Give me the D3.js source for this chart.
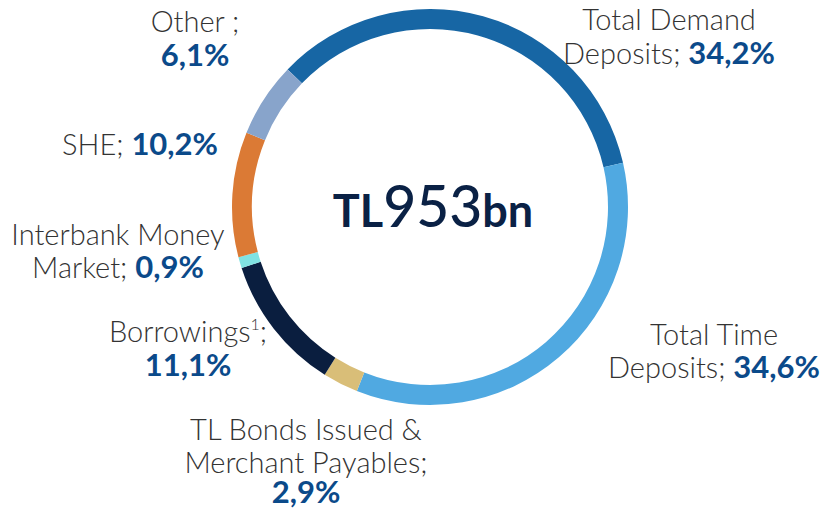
<!DOCTYPE html>
<html><head><meta charset="utf-8">
<script src="https://cdn.jsdelivr.net/npm/d3@7/dist/d3.min.js"></script>
<style>
html,body{margin:0;padding:0;background:#fff;}
svg{display:block;}
.lbl{font-family:Lato,"Open Sans",sans-serif;font-weight:300;fill:#333;font-size:29px;}
.pct{font-family:Lato,"Open Sans",sans-serif;font-weight:700;fill:#0b4a8a;font-size:31px;}
</style></head>
<body>
<svg id="c" width="825" height="509"></svg>
<script>
const categories = ["Total Demand Deposits","Total Time Deposits","TL Bonds Issued & Merchant Payables","Borrowings","Interbank Money Market","SHE","Other"];
const values = [34.2, 34.6, 2.9, 11.1, 0.9, 10.2, 6.1];
const valueLabels = ["34,2%","34,6%","2,9%","11,1%","0,9%","10,2%","6,1%"];
const colors = ["#1766a4","#50a9e1","#d9be78","#0a1e3f","#80e2e2","#db7a35","#88a4cb"];
const centerTotal = ["TL","953","bn"];

const svg = d3.select("#c");
const cx = 430, cy = 207, R = 198, r = 178;
const start = -46 * Math.PI / 180;
const pie = d3.pie().sort(null).startAngle(start).endAngle(start + 2*Math.PI);
const arc = d3.arc().innerRadius(r).outerRadius(R);
const g = svg.append("g").attr("transform", `translate(${cx},${cy})`);
g.selectAll("path").data(pie(values)).join("path")
  .attr("d", arc).attr("fill", (d,i)=>colors[i]);

const labels = [
  {i:0, x:669, lines:[{t:"Total Demand",y:30},{t:"Deposits; ",y:64,pct:true}]},
  {i:1, x:714, lines:[{t:"Total Time",y:345},{t:"Deposits; ",y:378,pct:true}]},
  {i:2, x:306, lines:[{t:"TL Bonds Issued &",y:440},{t:"Merchant Payables;",y:473},{t:"",y:503,pct:true}]},
  {i:3, x:188, lines:[{t:"Borrowings",y:342,sup:"1",after:";"},{t:"",y:376,pct:true}]},
  {i:4, x:118, lines:[{t:"Interbank Money",y:245},{t:"Market; ",y:278,pct:true}]},
  {i:5, x:140, lines:[{t:"SHE; ",y:155,pct:true}]},
  {i:6, x:195, lines:[{t:"Other ;",y:32},{t:"",y:66,pct:true}]}
];
labels.forEach(L => {
  L.lines.forEach(ln => {
    const t = svg.append("text").attr("class","lbl").attr("x",L.x).attr("y",ln.y).attr("text-anchor","middle");
    if (ln.t) t.append("tspan").text(ln.t);
    if (ln.sup) {
      t.append("tspan").attr("font-size","16px").attr("dy","-12").text(ln.sup);
      t.append("tspan").attr("dy","12").text(ln.after);
    }
    if (ln.pct) t.append("tspan").attr("class","pct").text(valueLabels[L.i]);
  });
});

const ct = svg.append("text").attr("x",433).attr("y",227).attr("text-anchor","middle")
  .attr("fill","#0a2145").attr("font-family","Lato,'Open Sans',sans-serif").attr("font-weight",700);
ct.append("tspan").attr("font-size","45px").text(centerTotal[0]);
ct.append("tspan").attr("font-size","57px").attr("font-weight",500).text(centerTotal[1]);
ct.append("tspan").attr("font-size","45px").text(centerTotal[2]);
</script>
</body></html>
